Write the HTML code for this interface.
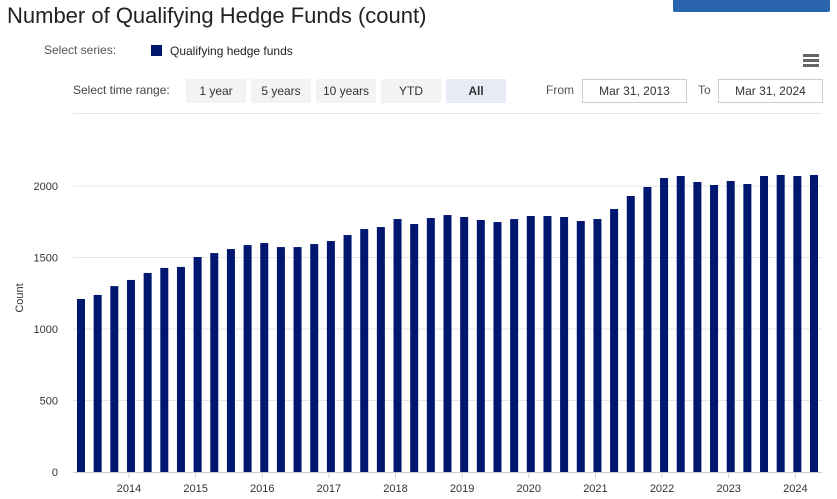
<!DOCTYPE html>
<html><head><meta charset="utf-8"><style>
body{margin:0;width:837px;height:499px;overflow:hidden;background:#fff;font-family:"Liberation Sans",sans-serif;position:relative}
.a{position:absolute}
.btn{position:absolute;top:79px;height:24px;line-height:24px;background:#f3f3f3;font-size:12px;color:#333;text-align:center}
.inp{position:absolute;top:79px;height:22px;line-height:22px;border:1px solid #ccc;font-size:12px;color:#333;text-align:center}
</style></head><body>
<div class="a" style="left:7px;top:3px;font-size:22px;color:#222">Number of Qualifying Hedge Funds (count)</div>
<div class="a" style="left:673px;top:-10px;width:157px;height:22px;background:#2a63ae;border-radius:2px"></div>
<div class="a" style="left:44px;top:43px;font-size:12px;color:#555">Select series:</div>
<div class="a" style="left:151px;top:44px;font-size:12px;color:#222"><span style="display:inline-block;width:11px;height:11px;background:#00176f;vertical-align:-1px;margin-right:8px"></span>Qualifying hedge funds</div>
<div class="a" style="left:803px;top:54px;width:16px">
<div style="height:3px;background:#666;margin-bottom:2px"></div><div style="height:3px;background:#666;margin-bottom:2px"></div><div style="height:3px;background:#666"></div></div>
<div class="a" style="left:73px;top:83px;font-size:12px;color:#444">Select time range:</div>
<div class="btn" style="left:186px;width:60px">1 year</div>
<div class="btn" style="left:251px;width:60px">5 years</div>
<div class="btn" style="left:316px;width:60px">10 years</div>
<div class="btn" style="left:381px;width:60px">YTD</div>
<div class="btn" style="left:446px;width:60px;background:#e6ebf5;font-weight:bold">All</div>
<div class="a" style="left:546px;top:83px;font-size:12px;color:#555">From</div>
<div class="inp" style="left:582px;width:103px">Mar 31, 2013</div>
<div class="a" style="left:698px;top:83px;font-size:12px;color:#555">To</div>
<div class="inp" style="left:718px;width:103px">Mar 31, 2024</div>
<div class="a" style="left:73px;top:113px;width:749px;height:1px;background:#e6e6e6"></div>
<svg class="a" style="left:0;top:0" width="837" height="499" id="chart"></svg>
<script>
const values=[1210,1238,1300,1343,1392,1427,1434,1503,1531,1559,1587,1601,1573,1573,1594,1615,1657,1699,1713,1769,1734,1776,1797,1783,1762,1748,1769,1790,1790,1783,1755,1769,1839,1930,1993,2056,2070,2028,2007,2035,2014,2070,2077,2070,2077];
const yTicks=[0,500,1000,1500,2000];
const years=["2014","2015","2016","2017","2018","2019","2020","2021","2022","2023","2024"];
const svg=document.getElementById('chart');const NS='http://www.w3.org/2000/svg';
const y=v=>472-v*0.143;
const x=i=>81+i*(733/44);
function mk(t,a){const e=document.createElementNS(NS,t);for(const k in a)e.setAttribute(k,a[k]);svg.appendChild(e);return e;}
yTicks.forEach(v=>{
 if(v>0){const l=mk('line',{x1:73,x2:822,y1:y(v),y2:y(v),stroke:'#e6e6e6'});
 
 }
 const t=mk('text',{x:58,y:y(v)+4,'text-anchor':'end','font-size':11,fill:'#333','font-family':'Liberation Sans'});t.textContent=v;
 
 
});
const yt=mk('text',{x:0,y:0,transform:'translate(23,298) rotate(-90)','text-anchor':'middle','font-size':11,fill:'#333','font-family':'Liberation Sans'});yt.textContent='Count';


values.forEach((v,i)=>{const r=mk('rect',{x:x(i)-4,y:y(v),width:8,height:472-y(v),fill:'#00176f'});
 
 });
const ax=mk('line',{x1:73,x2:822,y1:472.5,y2:472.5,stroke:'#ccc'});


years.forEach((yr,k)=>{const cx=x(3+4*k)-2;
 const tk=mk('line',{x1:cx,x2:cx,y1:472,y2:478,stroke:'#ccc'});
 
 
 const t=mk('text',{x:cx,y:492,'text-anchor':'middle','font-size':11,fill:'#333','font-family':'Liberation Sans'});t.textContent=yr;
 
 });
</script>
</body></html>
